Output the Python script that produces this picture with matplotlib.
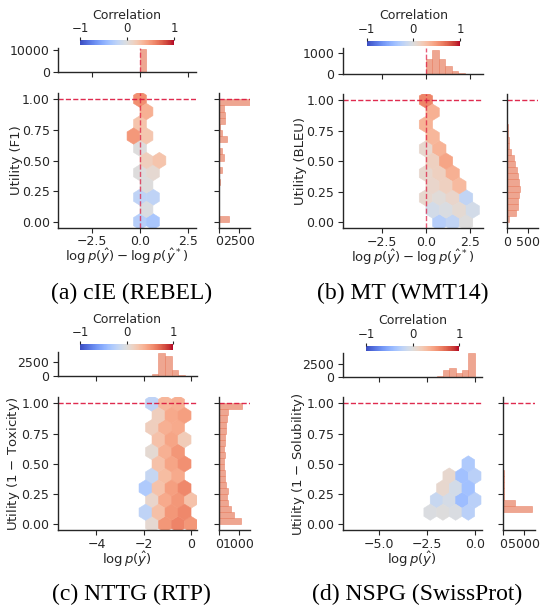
import numpy as np
import matplotlib
matplotlib.use('Agg')
import matplotlib.pyplot as plt

# -----------------------------
# DATA
# -----------------------------
# hexagon cells: centre x, centre y, correlation
hex_a_x = [0.0, 0.335, 0.0, -0.335, 0.335, 0.0, 0.335, 1.005, 0.0, 0.67, 0.335, 0.0, 0.67, 0.335, 0.0, 0.67]
hex_a_y = [1.0, 0.9, 0.8, 0.7, 0.7, 0.6, 0.5, 0.5, 0.4, 0.4, 0.3, 0.2, 0.2, 0.1, 0.0, 0.0]
hex_a_c = [0.55, 0.38, 0.25, 0.5, 0.24, 0.0, 0.17, 0.25, 0.0, 0.07, 0.0, -0.21, -0.21, -0.02, -0.26, -0.34]

hex_b_x = [0.0, 0.38, 0.0, 0.38, 0.0, 0.76, 0.38, 1.14, 0.0, 0.76, 1.52, 0.38, 1.14, 1.9,
           0.0, 0.76, 1.52, 2.28, 0.38, 1.14, 1.9, 2.66, 0.76, 1.52, 2.28]
hex_b_y = [1.0, 0.9, 0.8, 0.7, 0.6, 0.6, 0.5, 0.5, 0.4, 0.4, 0.4, 0.3, 0.3, 0.3,
           0.2, 0.2, 0.2, 0.2, 0.1, 0.1, 0.1, 0.1, 0.0, 0.0, 0.0]
hex_b_c = [0.6, 0.38, 0.36, 0.34, 0.08, 0.36, 0.15, 0.44, 0.08, 0.15, 0.38, 0.1, 0.15, 0.32,
           0.08, 0.03, 0.1, -0.19, -0.08, -0.03, 0.06, -0.08, -0.26, -0.19, 0.0]

hex_c_x = [-1.65, -1.1, -0.55, -1.375, -0.825, -0.275, -1.65, -1.1, -0.55, -1.375, -0.825, -0.275,
           -1.65, -1.1, -0.55, -1.375, -0.825, -0.275, -1.65, -1.1, -0.55,
           -1.925, -1.375, -0.825, -0.275, -1.65, -1.1, -0.55, 0.0,
           -1.925, -1.375, -0.825, -0.275, -1.65, -1.1, -0.55, 0.0]
hex_c_y = [1.0, 1.0, 1.0, 0.9, 0.9, 0.9, 0.8, 0.8, 0.8, 0.7, 0.7, 0.7,
           0.6, 0.6, 0.6, 0.5, 0.5, 0.5, 0.4, 0.4, 0.4,
           0.3, 0.3, 0.3, 0.3, 0.2, 0.2, 0.2, 0.2,
           0.1, 0.1, 0.1, 0.1, 0.0, 0.0, 0.0, 0.0]
hex_c_c = [-0.21, 0.34, 0.38, 0.17, 0.42, 0.47, 0.17, 0.38, 0.41, 0.27, 0.44, 0.19,
           0.06, 0.38, 0.51, 0.27, 0.44, 0.54, -0.17, 0.3, 0.41,
           -0.3, 0.26, 0.47, 0.58, 0.1, 0.41, 0.51, 0.26,
           -0.21, 0.28, 0.51, 0.58, 0.07, 0.51, 0.6, 0.51]

hex_d_x = [-0.333, -1.333, -0.667, 0.0, -1.667, -1.0, -0.333,
           -2.0, -1.333, -0.667, 0.0, -2.333, -1.667, -1.0, -0.333]
hex_d_y = [0.5, 0.4, 0.4, 0.4, 0.3, 0.3, 0.3, 0.2, 0.2, 0.2, 0.2, 0.1, 0.1, 0.1, 0.1]
hex_d_c = [-0.3, 0.08, -0.38, -0.24, 0.08, -0.08, -0.38,
           -0.15, -0.07, -0.41, -0.24, -0.02, 0.0, -0.03, -0.24]

# top marginal histograms (left bin edges, counts)
top_a_left = [-0.33, 0.0, 0.33]
top_a_counts = [40, 10240, 60]
top_b_left = [-0.37, 0.0, 0.37, 0.74, 1.11, 1.48, 1.85, 2.22]
top_b_counts = [20, 720, 1100, 720, 370, 140, 40, 10]
top_c_left = [-5.58, -5.30, -5.02, -4.74, -4.46, -4.18, -3.90, -3.62, -3.34, -3.06, -2.78, -2.50,
              -2.22, -1.94, -1.66, -1.38, -1.10, -0.82, -0.54, -0.26]
top_c_counts = [5, 5, 5, 5, 8, 8, 10, 10, 12, 15, 18, 25, 35, 60, 400, 4100, 3630, 1130, 180, 30]
top_d_left = [-6.667, -6.333, -6.0, -5.667, -5.333, -5.0, -4.667, -4.333, -4.0, -3.667, -3.333,
              -3.0, -2.667, -2.333, -2.0, -1.667, -1.333, -1.0, -0.667, -0.333]
top_d_counts = [5, 5, 5, 5, 5, 8, 8, 10, 10, 12, 15, 20, 30, 50, 200, 1350, 1800, 830, 1400, 4600]

# right marginal histograms over utility
utility_bins = [0.00, 0.05, 0.10, 0.15, 0.20, 0.25, 0.30, 0.35, 0.40, 0.45,
                0.50, 0.55, 0.60, 0.65, 0.70, 0.75, 0.80, 0.85, 0.90, 0.95]
right_a_counts = [1230, 0, 0, 0, 0, 0, 130, 0, 300, 0, 570, 300, 0, 970, 300, 130, 700, 700, 615, 3950]
right_b_counts = [48, 222, 270, 270, 294, 318, 294, 262, 240, 200, 175, 103, 55, 48, 30, 24, 0, 0, 0, 0]
right_c_counts = [1120, 760, 600, 465, 410, 450, 345, 290, 290, 240, 240, 290, 240, 290, 290, 345,
                  345, 380, 430, 1170]
right_d_counts = [0, 0, 6820, 2710, 150, 150, 150, 150, 150, 0, 0, 0, 0, 0, 0, 0, 0, 0, 0, 0]

# -----------------------------
# STYLE
# -----------------------------
W, H = 540, 608
dark = '0.15'
plt.rcParams.update({
    'font.family': 'DejaVu Sans',
    'mathtext.fontset': 'dejavusans',
    'font.size': 9,
    'axes.edgecolor': dark,
    'axes.labelcolor': dark,
    'text.color': dark,
    'xtick.color': dark,
    'ytick.color': dark,
    'axes.linewidth': 1.0,
    'xtick.major.size': 3.5,
    'ytick.major.size': 3.5,
    'xtick.major.pad': 2.0,
    'ytick.major.pad': 2.5,
    'xtick.labelsize': 9,
    'ytick.labelsize': 9,
    'axes.labelsize': 9.5,
})
BAR_COLOR = (0.91, 0.50, 0.39)
LINE_COLOR = 'crimson'


def px_axes(fig, x0, y0, x1, y1):
    return fig.add_axes([x0 / W, 1 - y1 / H, (x1 - x0) / W, (y1 - y0) / H])


def despine(ax):
    ax.spines['top'].set_visible(False)
    ax.spines['right'].set_visible(False)


def draw_panel(fig, lay, hx, hy, hc, top_left, top_counts, right_counts):
    ax = px_axes(fig, *lay['main'])
    ax_top = px_axes(fig, *lay['top'])
    ax_r = px_axes(fig, *lay['right'])
    cax = px_axes(fig, *lay['cbar'])

    hb = ax.hexbin(hx, hy, C=hc, gridsize=lay['grid'], extent=lay['extent'],
                   cmap='coolwarm', vmin=-1, vmax=1, edgecolors='face', linewidths=0.4)
    ax.axhline(1.0, color=LINE_COLOR, ls='--', lw=1, alpha=0.9)
    if lay['vline']:
        ax.axvline(0.0, color=LINE_COLOR, ls='--', lw=1, alpha=0.7)
        ax_top.axvline(0.0, color=LINE_COLOR, ls='--', lw=1, alpha=0.7)
    ax.set_xlim(*lay['xlim'])
    ax.set_ylim(-0.05, 1.05)
    ax.set_xticks(lay['xticks'])
    ax.set_yticks([0.0, 0.25, 0.5, 0.75, 1.0])
    ax.set_xlabel(lay['xlabel'], labelpad=lay['xpad'])
    ax.set_ylabel(lay['ylabel'], labelpad=-0.5)
    despine(ax)

    ax_top.bar(top_left, top_counts, width=lay['top_w'], align='edge', color=BAR_COLOR,
               alpha=0.7, edgecolor=BAR_COLOR, linewidth=0.5)
    ax_top.set_xlim(*lay['xlim'])
    ax_top.set_xticks(lay['xticks'])
    ax_top.set_xticklabels([])
    ax_top.set_ylim(0, lay['top_ymax'])
    ax_top.set_yticks(lay['top_yticks'])
    despine(ax_top)

    ax_r.barh(utility_bins, right_counts, height=0.05, align='edge', color=BAR_COLOR,
              alpha=0.7, edgecolor=BAR_COLOR, linewidth=0.5)
    ax_r.axhline(1.0, color=LINE_COLOR, ls='--', lw=1, alpha=0.9)
    ax_r.set_ylim(-0.05, 1.05)
    ax_r.set_yticks([0.0, 0.25, 0.5, 0.75, 1.0])
    ax_r.set_yticklabels([])
    ax_r.set_xlim(0, lay['right_xmax'])
    ax_r.set_xticks(lay['right_xticks'])
    despine(ax_r)

    cb = fig.colorbar(hb, cax=cax, orientation='horizontal')
    cb.set_ticks([-1, 0, 1])
    cb.outline.set_visible(False)
    cax.xaxis.set_ticks_position('top')
    cax.xaxis.set_label_position('top')
    cax.tick_params(length=2.5, pad=1.0, labelsize=8.5)
    cb.set_label('Correlation', fontsize=9, labelpad=2.5)

    fig.text(lay['cap'][0] / W, 1 - lay['cap'][1] / H, lay['caption'], ha='center', va='center',
             family='Liberation Serif', fontsize=17, color='black')


xlab_diff = r'$\log p(\hat{y}) - \log p(\hat{y}^*)$'
xlab_logp = r'$\log p(\hat{y})$'

layouts = {
    'a': dict(main=(58.3, 93.2, 196, 227.8), top=(58.3, 48.3, 196, 72.3),
              right=(219.3, 93.2, 250, 227.8), cbar=(80, 40, 174, 45.3),
              grid=(10, 5), extent=(-4.02, 2.68, 0.0, 1.0), xlim=(-4.23, 2.9),
              xticks=[-2.5, 0.0, 2.5], top_w=0.33, top_ymax=10750, top_yticks=[0, 10000],
              right_xmax=3980, right_xticks=[0, 2500], vline=True, xpad=-1,
              xlabel=xlab_diff, ylabel='Utility (F1)', caption='(a) cIE (REBEL)', cap=(131.5, 293)),
    'b': dict(main=(342.7, 93.9, 483.3, 228.4), top=(342.7, 48.3, 483.3, 74),
              right=(506.7, 93.9, 538, 228.4), cbar=(366.7, 40.7, 460, 46.3),
              grid=(10, 5), extent=(-4.56, 3.04, 0.0, 1.0), xlim=(-4.73, 3.26),
              xticks=[-2.5, 0.0, 2.5], top_w=0.37, top_ymax=1200, top_yticks=[0, 1000],
              right_xmax=745, right_xticks=[0, 500], vline=True, xpad=-1,
              xlabel=xlab_diff, ylabel='Utility (BLEU)', caption='(b) MT (WMT14)', cap=(403, 293)),
    'c': dict(main=(57.7, 397.3, 196.7, 530.4), top=(57.7, 351.7, 196.7, 376.3),
              right=(219, 397.3, 250, 530.4), cbar=(80, 344.3, 173.3, 350),
              grid=(11, 5), extent=(-5.5, 0.55, 0.0, 1.0), xlim=(-5.64, 0.24),
              xticks=[-4, -2, 0], top_w=0.28, top_ymax=4390, top_yticks=[0, 2500],
              right_xmax=1550, right_xticks=[0, 1000], vline=False, xpad=-1,
              xlabel=xlab_logp, ylabel='Utility (1 $-$ Toxicity)', caption='(c) NTTG (RTP)', cap=(131, 594)),
    'd': dict(main=(342.7, 397.3, 481.7, 530.4), top=(342.7, 352.7, 481.7, 377.3),
              right=(503.3, 397.3, 535, 530.4), cbar=(366, 345.7, 459, 350.7),
              grid=(11, 5), extent=(-6.6667, 0.6667, 0.0, 1.0), xlim=(-6.93, 0.37),
              xticks=[-5.0, -2.5, 0.0], top_w=0.333, top_ymax=4730, top_yticks=[0, 2500],
              right_xmax=7630, right_xticks=[0, 5000], vline=False, xpad=-1,
              xlabel=xlab_logp, ylabel='Utility (1 $-$ Solubility)', caption='(d) NSPG (SwissProt)', cap=(417.5, 594)),
}

fig = plt.figure(figsize=(W / 100, H / 100), dpi=100)
draw_panel(fig, layouts['a'], hex_a_x, hex_a_y, hex_a_c, top_a_left, top_a_counts, right_a_counts)
draw_panel(fig, layouts['b'], hex_b_x, hex_b_y, hex_b_c, top_b_left, top_b_counts, right_b_counts)
draw_panel(fig, layouts['c'], hex_c_x, hex_c_y, hex_c_c, top_c_left, top_c_counts, right_c_counts)
draw_panel(fig, layouts['d'], hex_d_x, hex_d_y, hex_d_c, top_d_left, top_d_counts, right_d_counts)

fig.savefig('out.png', dpi=100)
